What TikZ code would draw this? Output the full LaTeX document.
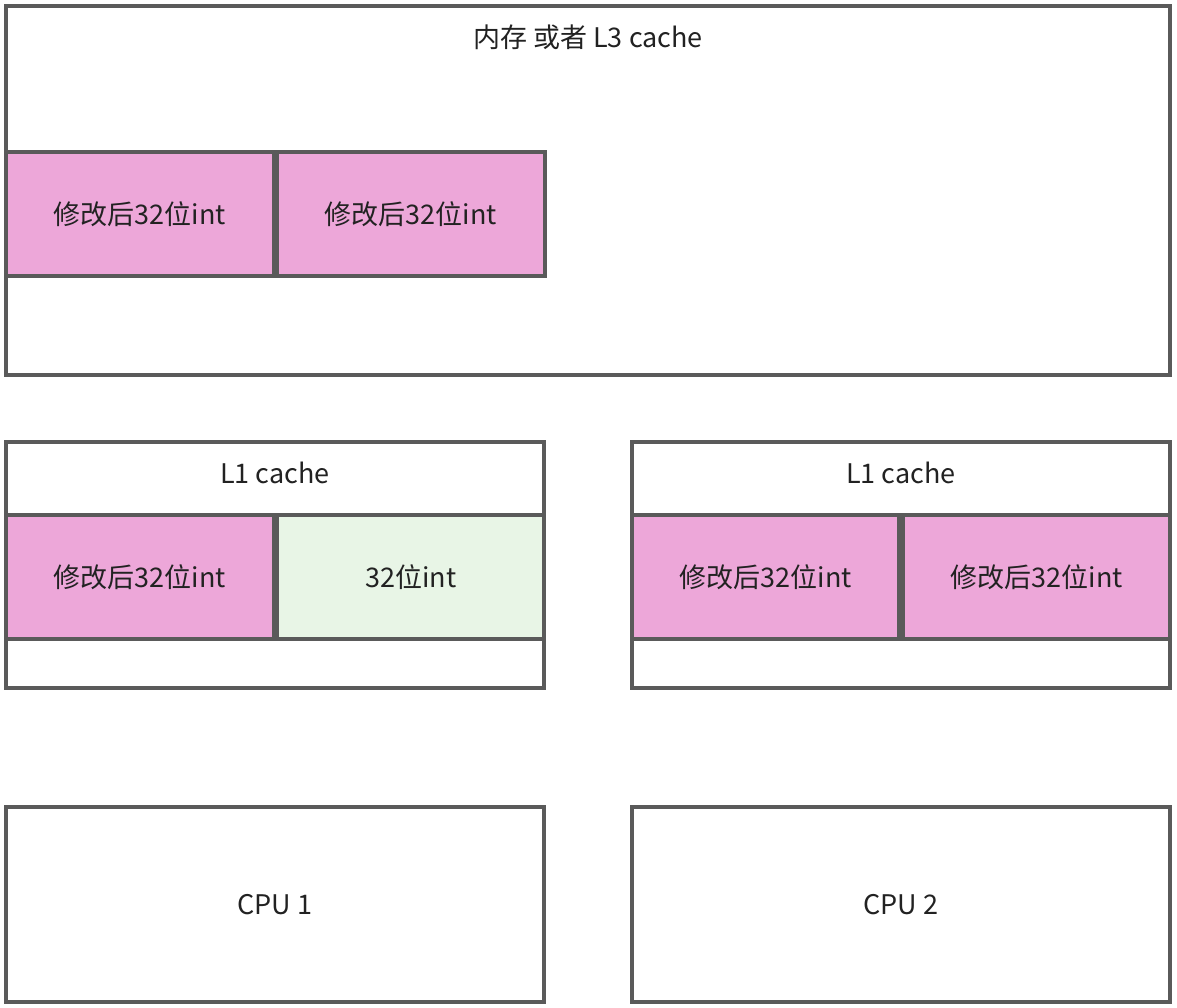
\documentclass[tikz,border=0pt]{standalone}
\usepackage{fontspec}
\newfontfamily\cjk{Noto Sans CJK SC}
\definecolor{edge}{HTML}{5A5A5A}
\definecolor{pinkfill}{HTML}{EDA7D9}
\definecolor{greenfill}{HTML}{E8F5E6}
\definecolor{txt}{HTML}{222222}
\tikzset{
  box/.style={draw=edge, line width=3.2pt, fill=white, inner sep=0pt},
  cell/.style={draw=edge, line width=3.2pt, fill=pinkfill},
  gcell/.style={draw=edge, line width=3.2pt, fill=greenfill},
  lbl/.style={font=\cjk\fontsize{27}{31}\selectfont, text=txt, inner sep=0pt}
}
\begin{document}
\begin{tikzpicture}[x=1pt,y=-1pt]
\useasboundingbox (0,0) rectangle (1177,1008);
% memory / L3
\draw[box] (6,6) rectangle (1170,375);
\node[lbl] (memlbl) at (588,37) {内存 或者 L3 cache};
\draw[cell] (6,152) rectangle (274,276);
\draw[cell] (277,152) rectangle (545,276);
\node[lbl] (m1) at (140,214) {修改后32位int};
\node[lbl] (m2) at (411,214) {修改后32位int};
% L1 left
\draw[box] (6,442) rectangle (544,688);
\node[lbl] (l1a) at (275,473) {L1 cache};
\draw[cell] (6,515) rectangle (274,639);
\draw[gcell] (277,515) rectangle (544,639);
\node[lbl] (a1) at (140,577) {修改后32位int};
\node[lbl] (a2) at (411,577) {32位int};
% L1 right
\draw[box] (632,442) rectangle (1170,688);
\node[lbl] (l1b) at (901,473) {L1 cache};
\draw[cell] (632,515) rectangle (899,639);
\draw[cell] (903,515) rectangle (1170,639);
\node[lbl] (b1) at (766,577) {修改后32位int};
\node[lbl] (b2) at (1037,577) {修改后32位int};
% CPUs
\draw[box] (6,807) rectangle (544,1002);
\node[lbl] (cpu1) at (275,905) {CPU 1};
\draw[box] (632,807) rectangle (1170,1002);
\node[lbl] (cpu2) at (901,905) {CPU 2};
\end{tikzpicture}
\end{document}
